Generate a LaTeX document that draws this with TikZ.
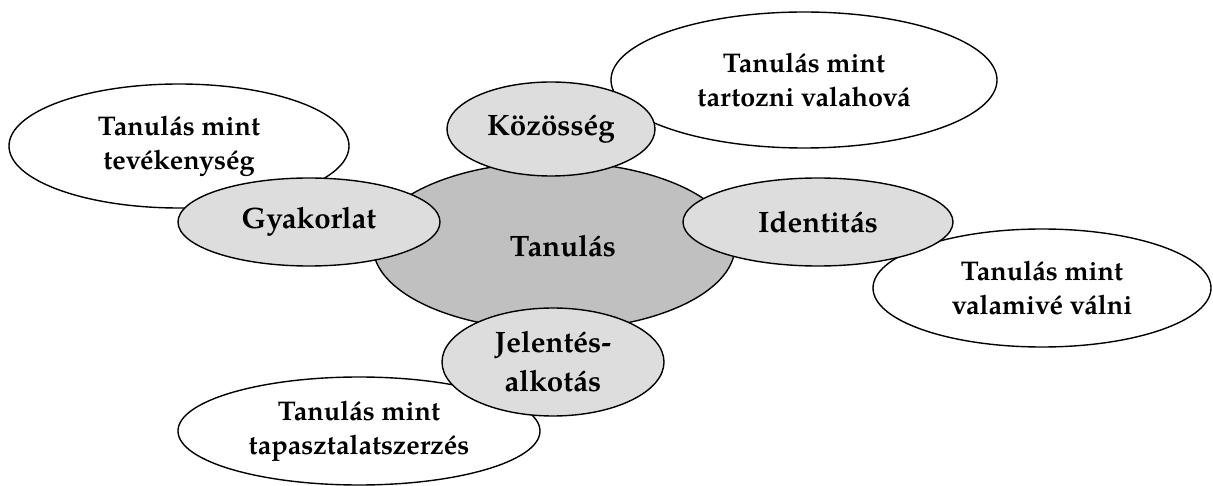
\documentclass[tikz,border=0pt]{standalone}
\usepackage{fontspec}
\setmainfont{TeX Gyre Pagella}
\usetikzlibrary{shapes}
\definecolor{centergray}{HTML}{C0C0C0}
\definecolor{sidegray}{HTML}{DDDDDD}
\tikzstyle{O} = [ellipse,
			draw, fill=white, line width=1.4pt,
			inner sep=0pt, align=center,
			font=\fontsize{27}{34}\selectfont\bfseries]
\tikzstyle{M} = [ellipse,
			draw, fill=centergray, line width=1.4pt,
			inner sep=0pt, align=center,
			font=\fontsize{29.5}{36}\selectfont\bfseries]
\tikzstyle{I} = [ellipse,
			draw, fill=sidegray, line width=1.4pt,
			inner sep=0pt, align=center,
			font=\fontsize{29.5}{39}\selectfont\bfseries]

\begin{document}
\begin{tikzpicture}[x=1pt, y=-1pt]

\useasboundingbox (0,0) rectangle (1213,486);

% outer ellipses
\node [O, minimum width=340, minimum height=124] (tev) at (179,146)
	{Tanulás mint\\tevékenység};

\node [O, minimum width=386, minimum height=136] (tart) at (804,80)
	{Tanulás mint\\tartozni valahová};

\node [O, minimum width=338, minimum height=118] (val) at (1042,288)
	{Tanulás mint\\valamivé válni};

\node [O, minimum width=362, minimum height=108] (tap) at (359,431)
	{Tanulás mint\\tapasztalatszerzés};

% center
\node [M, minimum width=362, minimum height=168] (tan) at (554,246)
	{\hspace*{18pt}Tanulás};

% components
\node [I, minimum width=208, minimum height=94] (koz) at (551,129)
	{Közösség};

\node [I, minimum width=262, minimum height=88] (gya) at (309,222)
	{Gyakorlat};

\node [I, minimum width=270, minimum height=88] (ide) at (818,222)
	{Identitás};

\node [I, minimum width=222, minimum height=108] (jel) at (553,362)
	{Jelentés-\\alkotás};

\end{tikzpicture}
\end{document}
